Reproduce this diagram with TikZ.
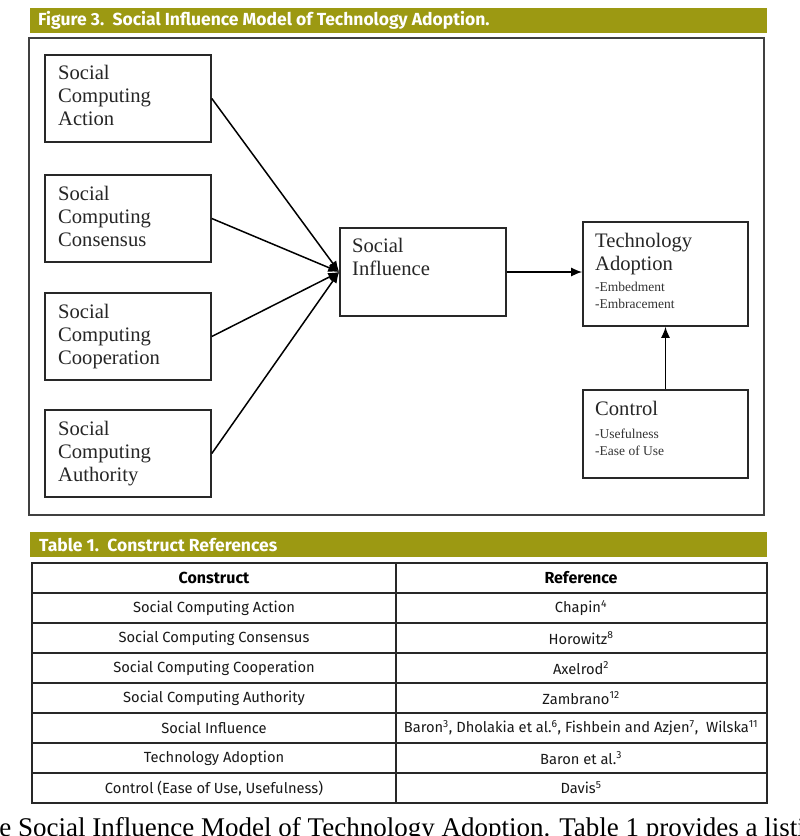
\documentclass[tikz,border=0pt]{standalone}
\usepackage{fontspec}
\setmainfont{Liberation Serif}
\newfontfamily\tabfont{Fira Sans}
\newfontfamily\headfont{Fira Sans}
\usetikzlibrary{arrows.meta}
\definecolor{barolive}{RGB}{156,153,18}
\definecolor{boxline}{RGB}{40,40,40}
\tikzset{
  modelbox/.style={draw=boxline, line width=1.6pt, inner sep=0pt, minimum width=166pt, minimum height=87pt},
  boxtext/.style={anchor=base west, inner sep=0pt, align=left, font=\fontsize{20.6}{23}\selectfont, text=black!85},
  smalltext/.style={anchor=base west, inner sep=0pt, align=left, font=\fontsize{13.5}{16.5}\selectfont, text=black!80},
  conn/.style={line width=1.5pt, black, -{Latex[length=11pt,width=9pt]}},
  bartitle/.style={anchor=west, inner sep=0pt, text=white, font=\headfont\bfseries\fontsize{17.5}{20}\selectfont},
  cell/.style={inner sep=0pt, font=\tabfont\fontsize{14.7}{16}\selectfont, text=black!90},
  headcell/.style={inner sep=0pt, font=\tabfont\bfseries\fontsize{16}{18}\selectfont, text=black},
  tabline/.style={line width=1.3pt, boxline}
}
\begin{document}
\begin{tikzpicture}[x=1pt,y=-1pt]
\useasboundingbox (0,0) rectangle (800,836);
\fill[white] (0,0) rectangle (800,836);

% figure title bar
\fill[barolive] (30,8) rectangle (767,33);
\node[bartitle] (ftitle) at (38,20.5) {Figure 3.\ \ Social Influence Model of Technology Adoption.};

% figure frame
\draw[line width=1.3pt, black!75] (29,38) rectangle (764,515);

% boxes
\node[modelbox] (sca) at (128,98.5) {};
\node[modelbox] (scc) at (128,218.5) {};
\node[modelbox] (scp) at (128,336.5) {};
\node[modelbox] (scu) at (128,453.5) {};
\node[modelbox, minimum height=88pt] (si) at (423,272) {};
\node[modelbox, minimum width=165pt, minimum height=104pt] (ta) at (665.5,274) {};
\node[modelbox, minimum width=165pt, minimum height=88pt] (ctrl) at (665.5,434) {};

% box texts (anchor = baseline of last line)
\node[boxtext] (tsca) at (58,125) {Social\\Computing\\Action};
\node[boxtext] (tscc) at (58,246) {Social\\Computing\\Consensus};
\node[boxtext] (tscp) at (58,364) {Social\\Computing\\Cooperation};
\node[boxtext] (tscu) at (58,481) {Social\\Computing\\Authority};
\node[boxtext] (tsi) at (352,275) {Social\\Influence};
\node[boxtext] (tta) at (595,270) {Technology\\Adoption};
\node[smalltext] (tta2) at (595,308) {-Embedment\\-Embracement};
\node[boxtext] (tctrl) at (595,415) {Control};
\node[smalltext] (tctrl2) at (595,455) {-Usefulness\\-Ease of Use};

% connectors
\draw[conn] (sca.east) -- (si.west);
\draw[conn] (scc.east) -- (si.west);
\draw[conn] (scp.east) -- (si.west);
\draw[conn] (scu.east) -- (si.west);
\draw[conn] (si.east) -- (si.east -| ta.west);
\draw[conn] (ctrl.north) -- (ta.south);

% table title bar
\fill[barolive] (30,532) rectangle (767,557);
\node[bartitle] (ttitle) at (39,544.5) {Table 1.\ \ Construct References};

% table
\draw[tabline] (32,563) rectangle (767,803);
\foreach \yy in {593,623,653,683,713,743,773} {
  \draw[tabline] (32,\yy) -- (767,\yy);
}
\draw[tabline] (396,563) -- (396,803);

\node[headcell] (h1) at (214,578) {Construct};
\node[headcell] (h2) at (581,578) {Reference};
\node[cell] (c1) at (214,608) {Social Computing Action};
\node[cell] (r1) at (581,608) {Chapin\textsuperscript{4}};
\node[cell] (c2) at (214,638) {Social Computing Consensus};
\node[cell] (r2) at (581,638) {Horowitz\textsuperscript{8}};
\node[cell] (c3) at (214,668) {Social Computing Cooperation};
\node[cell] (r3) at (581,668) {Axelrod\textsuperscript{2}};
\node[cell] (c4) at (214,698) {Social Computing Authority};
\node[cell] (r4) at (581,698) {Zambrano\textsuperscript{12}};
\node[cell] (c5) at (214,728) {Social Influence};
\node[cell] (r5) at (581,728) {Baron\textsuperscript{3}, Dholakia et al.\textsuperscript{6}, Fishbein and Azjen\textsuperscript{7},\ \ Wilska\textsuperscript{11}};
\node[cell] (c6) at (214,758) {Technology Adoption};
\node[cell] (r6) at (581,758) {Baron et al.\textsuperscript{3}};
\node[cell] (c7) at (214,788) {Control (Ease of Use, Usefulness)};
\node[cell] (r7) at (581,788) {Davis\textsuperscript{5}};

% running text cut off at bottom
\node[anchor=base west, inner sep=0pt, font=\fontsize{27}{30}\selectfont] (body) at (-30.7,836) {The Social Influence Model of Technology Adoption. Table 1 provides a listing};
\end{tikzpicture}
\end{document}
